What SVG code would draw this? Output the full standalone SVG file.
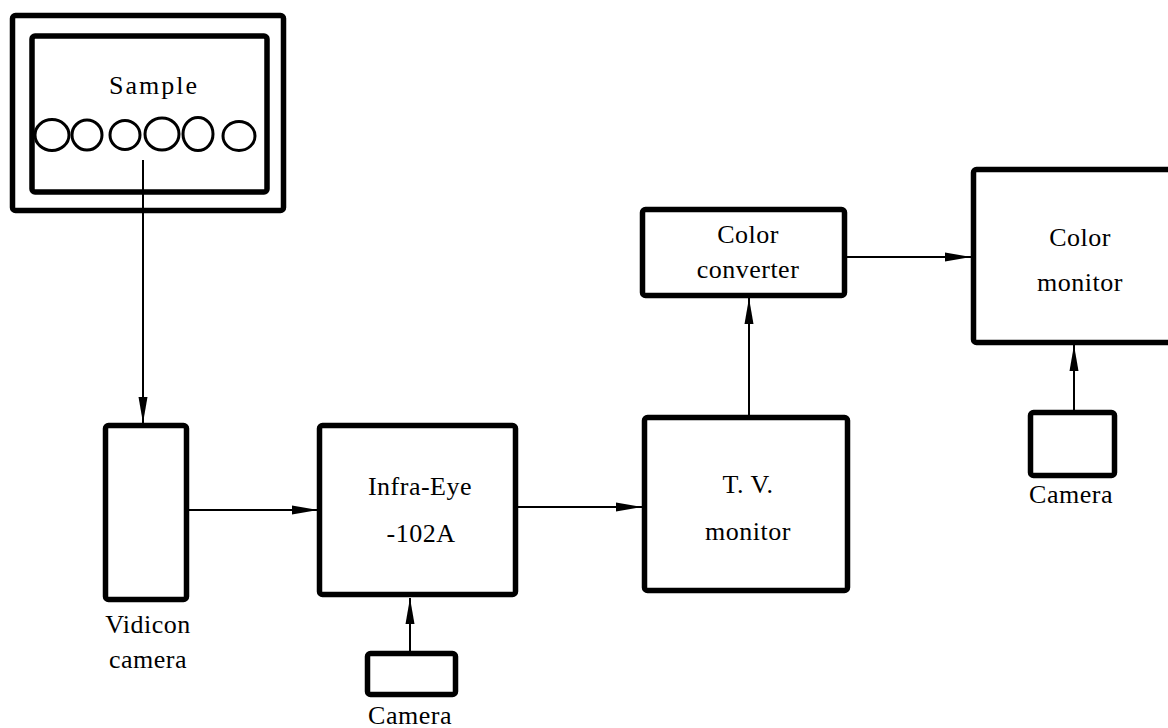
<svg xmlns="http://www.w3.org/2000/svg" width="1168" height="728" viewBox="0 0 1168 728">
<defs>
<style>
.box{fill:#fff;stroke:#000;stroke-width:5.5;}
.ov{fill:none;stroke:#000;stroke-width:3;}
.ln{fill:none;stroke:#000;stroke-width:2;}
text{font-family:"Liberation Serif","Times New Roman",serif;font-size:26px;fill:#000;text-anchor:middle;letter-spacing:0.5px;}
</style>
<marker id="ah" markerUnits="userSpaceOnUse" viewBox="0 0 26 10" refX="26" refY="5" markerWidth="26" markerHeight="10" orient="auto">
<path d="M0,0.5 L26,5 L0,9.5 Z" fill="#000"/>
</marker>
</defs>
<rect width="1168" height="728" fill="#fff"/>
<g id="sample">
<rect x="12.5" y="15.5" width="271" height="195" rx="3" class="box" stroke-width="5"/>
<rect x="32" y="36" width="235" height="156" rx="3" class="box" stroke-width="6"/>
<text x="154" y="94" style="letter-spacing:2px">Sample</text>
<ellipse cx="52" cy="135" rx="17" ry="15.5" class="ov"/>
<ellipse cx="87" cy="135" rx="15" ry="15" class="ov"/>
<ellipse cx="125" cy="135" rx="15" ry="14.5" class="ov"/>
<ellipse cx="162" cy="134" rx="17" ry="16" class="ov"/>
<ellipse cx="198" cy="134" rx="15" ry="16.5" class="ov"/>
<ellipse cx="239" cy="136" rx="16" ry="14.5" class="ov"/>
</g>
<g id="vidicon">
<rect x="105.5" y="425.5" width="81" height="174" rx="3" class="box"/>
<text x="148" y="633">Vidicon</text>
<text x="148" y="668">camera</text>
</g>
<g id="infraeye">
<rect x="319.5" y="425.5" width="196" height="169" rx="3" class="box"/>
<text x="420" y="495">Infra-Eye</text>
<text x="421" y="542">-102A</text>
</g>
<g id="camera1">
<rect x="367.5" y="653.5" width="88" height="41" rx="3" class="box"/>
<text x="410" y="724">Camera</text>
</g>
<g id="tvmonitor">
<rect x="644.5" y="417.5" width="203" height="173" rx="3" class="box"/>
<text x="748" y="493">T. V.</text>
<text x="748" y="540">monitor</text>
</g>
<g id="colorconverter">
<rect x="642.5" y="209.5" width="202" height="86" rx="3" class="box"/>
<text x="748" y="243">Color</text>
<text x="748" y="278">converter</text>
</g>
<g id="colormonitor">
<rect x="973.5" y="169.5" width="205" height="173" rx="3" class="box"/>
<text x="1080" y="246">Color</text>
<text x="1080" y="291">monitor</text>
</g>
<g id="camera2">
<rect x="1030.5" y="412.5" width="84" height="63" rx="3" class="box"/>
<text x="1071" y="503">Camera</text>
</g>
<g id="connectors">
<path d="M143,160 V423" class="ln" marker-end="url(#ah)"/>
<path d="M189,510 H318" class="ln" marker-end="url(#ah)"/>
<path d="M410,651 V598" class="ln" marker-end="url(#ah)"/>
<path d="M518,507 H642" class="ln" marker-end="url(#ah)"/>
<path d="M749,415 V298" class="ln" marker-end="url(#ah)"/>
<path d="M847,257 H971" class="ln" marker-end="url(#ah)"/>
<path d="M1074,410 V345" class="ln" marker-end="url(#ah)"/>
</g>
</svg>
